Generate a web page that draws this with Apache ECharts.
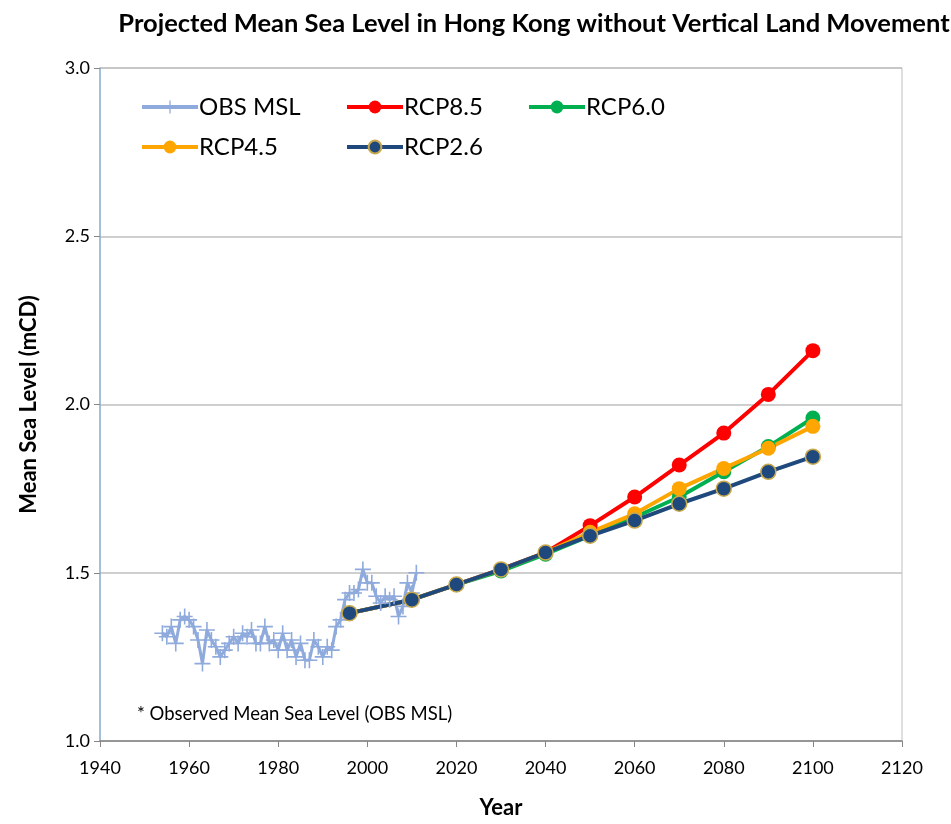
<!DOCTYPE html>
<html>
<head>
<meta charset="utf-8">
<script src="https://cdn.jsdelivr.net/npm/echarts@6/dist/echarts.min.js"></script>
<style>
html,body{margin:0;padding:0;background:#fff;}
#chart{width:951px;height:824px;}
</style>
</head>
<body>
<div id="chart"></div>
<script>
var titleText = 'Projected Mean Sea Level in Hong Kong without Vertical Land Movement';
var xTicks = [1940, 1960, 1980, 2000, 2020, 2040, 2060, 2080, 2100, 2120];
var yTicks = [1.0, 1.5, 2.0, 2.5, 3.0];

var obsStartYear = 1954;
var obsValues = [1.32, 1.31, 1.34, 1.29, 1.36, 1.37, 1.36, 1.34, 1.30, 1.23,
                 1.33, 1.30, 1.28, 1.25, 1.27, 1.29, 1.31, 1.29, 1.32, 1.31,
                 1.33, 1.29, 1.29, 1.34, 1.29, 1.30, 1.27, 1.32, 1.27, 1.30,
                 1.25, 1.29, 1.24, 1.24, 1.30, 1.28, 1.25, 1.28, 1.27, 1.34,
                 1.36, 1.42, 1.44, 1.44, 1.45, 1.51, 1.47, 1.47, 1.43, 1.41,
                 1.43, 1.42, 1.43, 1.37, 1.40, 1.47, 1.44, 1.50];

var rcpYears = [1996, 2010, 2020, 2030, 2040, 2050, 2060, 2070, 2080, 2090, 2100];
var rcp85 = [1.38, 1.42, 1.465, 1.51, 1.56, 1.64, 1.725, 1.82, 1.915, 2.03, 2.16];
var rcp60 = [1.38, 1.42, 1.465, 1.505, 1.555, 1.61, 1.665, 1.725, 1.80, 1.875, 1.96];
var rcp45 = [1.38, 1.42, 1.465, 1.51, 1.56, 1.62, 1.675, 1.75, 1.81, 1.87, 1.935];
var rcp26 = [1.38, 1.42, 1.465, 1.51, 1.56, 1.61, 1.655, 1.705, 1.75, 1.80, 1.845];

var seriesNames = ['OBS MSL', 'RCP8.5', 'RCP6.0', 'RCP4.5', 'RCP2.6'];
var noteText = '* Observed Mean Sea Level (OBS MSL)';

function pairs(xs, ys) { return ys.map(function (v, i) { return [xs[i], v]; }); }
var obsYears = obsValues.map(function (v, i) { return obsStartYear + i; });

var FONT = 'Lato, "Open Sans", sans-serif';
var plusPath = 'path://M-1,-10 L1,-10 L1,-1 L10,-1 L10,1 L1,1 L1,10 L-1,10 L-1,1 L-10,1 L-10,-1 L-1,-1 Z';

function rcpSeries(name, data, color, border) {
  return {
    name: name, type: 'line', data: pairs(rcpYears, data),
    symbol: 'circle', symbolSize: 15,
    lineStyle: { color: color, width: 4 },
    itemStyle: { color: color, borderColor: border || color, borderWidth: border ? 1.5 : 0 },
    emphasis: { disabled: true }, animation: false
  };
}

function legendAt(name, left, top) {
  return {
    data: [name], left: left, top: top, itemWidth: 56, itemHeight: 16, itemGap: 0,
    lineStyle: { width: 4 },
    textStyle: { fontFamily: FONT, fontSize: 24, color: '#000', padding: [0, 0, 0, -4] },
    selectedMode: false
  };
}

var chart = echarts.init(document.getElementById('chart'), null, { renderer: 'canvas' });
chart.setOption({
  animation: false,
  backgroundColor: '#ffffff',
  title: {
    text: titleText, left: 529, textAlign: 'center', top: 6,
    textStyle: { fontFamily: FONT, fontSize: 25.5, fontWeight: 'bold', color: '#000' }
  },
  grid: { left: 100, right: 49, top: 68, bottom: 78, show: true, borderColor: '#BFBFBF', borderWidth: 1 },
  legend: [
    legendAt(seriesNames[0], 135, 90),
    legendAt(seriesNames[1], 340, 90),
    legendAt(seriesNames[2], 522, 90),
    legendAt(seriesNames[3], 135, 130),
    legendAt(seriesNames[4], 340, 130)
  ],
  xAxis: {
    type: 'value', min: xTicks[0], max: xTicks[xTicks.length - 1], interval: 20,
    name: 'Year', nameLocation: 'middle', nameGap: 56,
    nameTextStyle: { fontFamily: FONT, fontSize: 22, fontWeight: 'bold', color: '#000' },
    axisLine: { show: true, lineStyle: { color: '#868686', width: 1.5 } },
    axisTick: { show: true, inside: false, length: 6, lineStyle: { color: '#868686' } },
    axisLabel: { fontFamily: FONT, fontSize: 18, color: '#000', margin: 18,
      formatter: function (v) { return String(v); } },
    splitLine: { show: false }
  },
  yAxis: {
    type: 'value', min: yTicks[0], max: yTicks[yTicks.length - 1], interval: 0.5,
    name: 'Mean Sea Level (mCD)', nameLocation: 'middle', nameGap: 60,
    nameTextStyle: { fontFamily: FONT, fontSize: 22, fontWeight: 'bold', color: '#000' },
    axisLine: { show: true, lineStyle: { color: '#95B3D7', width: 1.5 } },
    axisTick: { show: true, inside: false, length: 6, lineStyle: { color: '#868686' } },
    axisLabel: { fontFamily: FONT, fontSize: 18, color: '#000', margin: 10,
      formatter: function (v) { return v.toFixed(1); } },
    splitLine: { show: true, lineStyle: { color: '#BFBFBF', width: 1.5 } }
  },
  graphic: [{
    type: 'text', left: 137, top: 705,
    style: { text: noteText, fontFamily: FONT, fontSize: 18.5, fill: '#000' }
  }],
  series: [
    {
      name: seriesNames[0], type: 'line', data: pairs(obsYears, obsValues),
      symbol: plusPath, symbolSize: 16,
      lineStyle: { color: '#8FAADC', width: 3 },
      itemStyle: { color: '#8FAADC' },
      emphasis: { disabled: true }
    },
    rcpSeries(seriesNames[1], rcp85, '#FF0000'),
    rcpSeries(seriesNames[2], rcp60, '#00B050'),
    rcpSeries(seriesNames[3], rcp45, '#FFA500'),
    rcpSeries(seriesNames[4], rcp26, '#1F497D', '#C9A94B')
  ]
});
</script>
</body>
</html>
